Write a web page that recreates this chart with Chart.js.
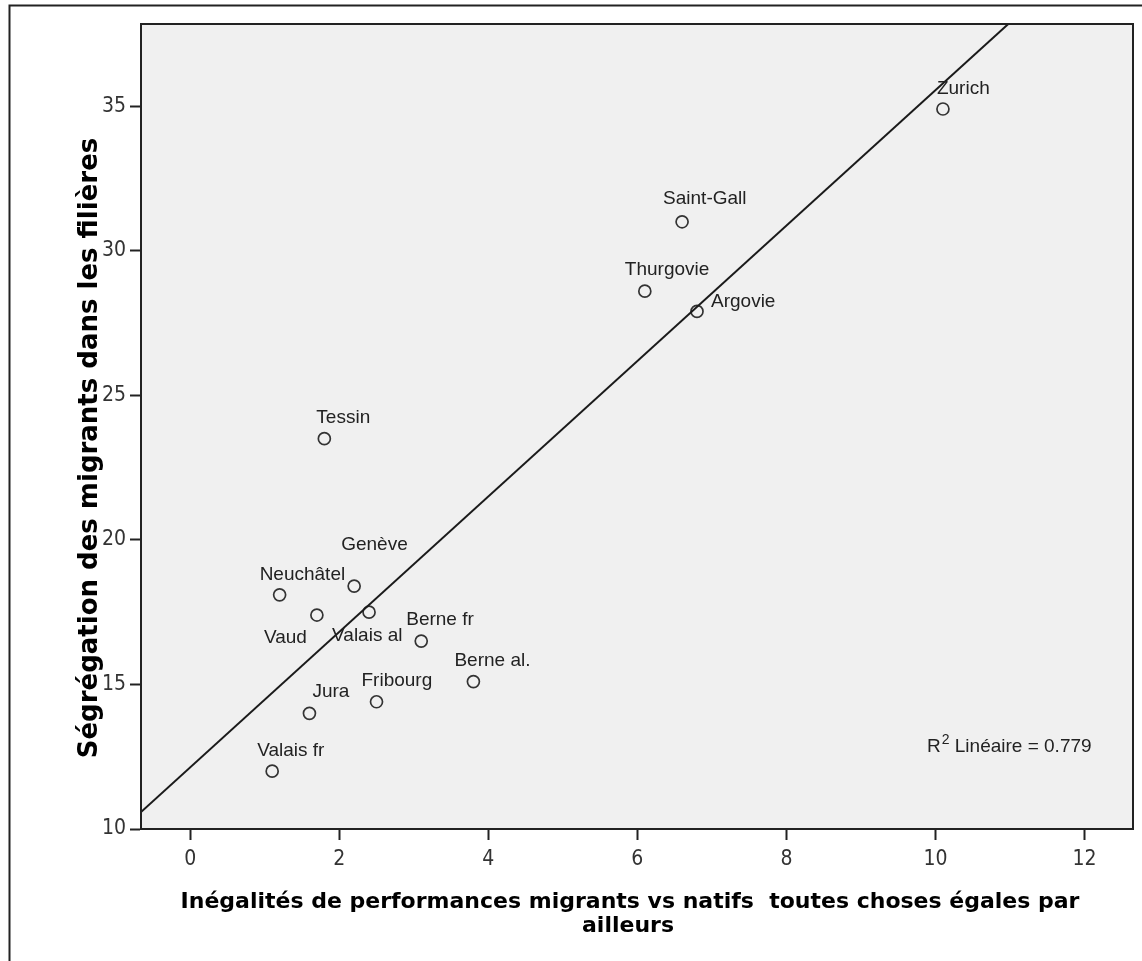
<!DOCTYPE html>
<html><head><meta charset="utf-8">
<script src="https://cdn.jsdelivr.net/npm/chart.js@4.4.1/dist/chart.umd.min.js"></script>
<style>html,body{margin:0;padding:0;background:#fff;}#wrap{width:1142px;height:961px;position:relative;}canvas{display:block;}</style>
</head><body><div id="wrap"><canvas id="c" width="1142" height="961" style="width:1142px;height:961px"></canvas></div>
<script>
// ---- data ----
const cantons = ['Zurich','Saint-Gall','Thurgovie','Argovie','Tessin','Genève','Neuchâtel','Vaud','Valais al','Berne fr','Berne al.','Fribourg','Jura','Valais fr'];
const inegalites = [10.1, 6.6, 6.1, 6.8, 1.8, 2.2, 1.2, 1.7, 2.4, 3.1, 3.8, 2.5, 1.6, 1.1];
const segregation = [34.9, 31.0, 28.6, 27.9, 23.5, 18.4, 18.1, 17.4, 17.5, 16.5, 15.1, 14.4, 14.0, 12.0];
const xTicks = [0, 2, 4, 6, 8, 10, 12];
const yTicks = [10, 15, 20, 25, 30, 35];
const xTitle = ['Inégalités de performances migrants vs natifs  toutes choses égales par', 'ailleurs'];
const yTitle = 'Ségrégation des migrants dans les filières';
const r2Text = ['R', '2', ' Linéaire = 0.779'];

// ---- axis ranges ----
const X_MIN = -0.66, X_MAX = 12.65, Y_MIN = 10, Y_MAX = 37.84;

// ---- least-squares fit line of the data (as in the reference) ----
const n = inegalites.length;
const mx = inegalites.reduce((a, b) => a + b, 0) / n;
const my = segregation.reduce((a, b) => a + b, 0) / n;
let sxy = 0, sxx = 0;
for (let i = 0; i < n; i++) { sxy += (inegalites[i] - mx) * (segregation[i] - my); sxx += (inegalites[i] - mx) ** 2; }
const slope = sxy / sxx, intercept = my - slope * mx;
const fitLine = [X_MIN, X_MAX].map(x => ({ x: x, y: intercept + slope * x }));

// ---- label placement (pixels, relative to each point) ----
const labelLayout = {
  'Zurich': [-6, -15], 'Saint-Gall': [-19, -18], 'Thurgovie': [-20, -16], 'Argovie': [14, -4],
  'Tessin': [-8, -16], 'Genève': [-13, -36], 'Neuchâtel': [-20, -15], 'Vaud': [-53, 28],
  'Valais al': [-37, 29], 'Berne fr': [-15, -16], 'Berne al.': [-19, -16], 'Fribourg': [-15, -16],
  'Jura': [3, -16], 'Valais fr': [-15, -15]
};

const decor = {
  id: 'decor',
  beforeDraw(chart) {
    const { ctx, chartArea: a } = chart;
    ctx.save();
    ctx.fillStyle = '#ffffff';
    ctx.fillRect(0, 0, chart.width, chart.height);
    ctx.strokeStyle = '#222';
    ctx.lineWidth = 2;
    ctx.beginPath();
    ctx.moveTo(9.5, chart.height + 5);
    ctx.lineTo(9.5, 5.5);
    ctx.lineTo(chart.width + 5, 5.5);
    ctx.stroke();
    ctx.fillStyle = '#f0f0f0';
    ctx.fillRect(a.left, a.top, a.right - a.left, a.bottom - a.top);
    ctx.restore();
  },
  afterDatasetsDraw(chart) {
    const { ctx, chartArea: a } = chart;
    const meta = chart.getDatasetMeta(1);
    ctx.save();
    ctx.font = '19px "Liberation Sans", Arial, sans-serif';
    ctx.fillStyle = '#222';
    ctx.textAlign = 'left';
    ctx.textBaseline = 'alphabetic';
    meta.data.forEach((pt, i) => {
      const off = labelLayout[cantons[i]] || [0, -15];
      ctx.fillText(cantons[i], pt.x + off[0], pt.y + off[1]);
    });
    // R² annotation
    let x = 927, y = 752;
    ctx.fillText(r2Text[0], x, y);
    x += ctx.measureText(r2Text[0]).width;
    ctx.font = '14px "Liberation Sans", Arial, sans-serif';
    ctx.fillText(r2Text[1], x + 1, y - 8);
    x += ctx.measureText(r2Text[1]).width + 1;
    ctx.font = '19px "Liberation Sans", Arial, sans-serif';
    ctx.fillText(r2Text[2], x, y);
    // plot frame
    ctx.strokeStyle = '#222';
    ctx.lineWidth = 2;
    ctx.strokeRect(a.left, a.top, a.right - a.left, a.bottom - a.top);
    // axis titles
    ctx.fillStyle = '#000';
    ctx.textAlign = 'center';
    ctx.textBaseline = 'middle';
    ctx.font = 'bold 22px "DejaVu Sans", Verdana, sans-serif';
    ctx.fillText(xTitle[0], 630, 902);
    ctx.fillText(xTitle[1], 628, 926);
    ctx.translate(90, 448);
    ctx.rotate(-Math.PI / 2);
    ctx.font = 'bold 26px "DejaVu Sans", Verdana, sans-serif';
    ctx.fillText(yTitle, 0, 0);
    ctx.restore();
  }
};

const tickFont = { family: '"Liberation Sans Narrow", "DejaVu Sans Condensed", "Liberation Sans", Arial', size: 21 };

new Chart(document.getElementById('c'), {
  type: 'scatter',
  data: {
    datasets: [
      {
        type: 'line', label: 'Linéaire', data: fitLine,
        borderColor: '#1a1a1a', borderWidth: 2, pointRadius: 0, fill: false, tension: 0
      },
      {
        label: 'Cantons',
        data: inegalites.map((v, i) => ({ x: v, y: segregation[i] })),
        pointRadius: 6, pointHoverRadius: 6, pointBorderWidth: 1.7,
        pointBorderColor: '#333', pointBackgroundColor: 'rgba(0,0,0,0)'
      }
    ]
  },
  options: {
    responsive: false,
    animation: false,
    devicePixelRatio: 1,
    layout: { padding: { top: 24, right: 9, left: 0, bottom: 0 } },
    plugins: { legend: { display: false }, tooltip: { enabled: false } },
    scales: {
      x: {
        type: 'linear', min: X_MIN, max: X_MAX,
        afterFit: s => { s.height = 132; },
        afterBuildTicks: s => { s.ticks = xTicks.map(v => ({ value: v })); },
        ticks: { includeBounds: false, color: '#333', font: tickFont, padding: 7, maxRotation: 0 },
        grid: { drawOnChartArea: false, drawTicks: true, tickLength: 11, tickColor: '#222', tickWidth: 2 },
        border: { display: true, color: '#222', width: 2 },
        title: { display: false, text: xTitle }
      },
      y: {
        type: 'linear', min: Y_MIN, max: Y_MAX,
        afterFit: s => { s.width = 141; },
        afterBuildTicks: s => { s.ticks = yTicks.map(v => ({ value: v })); },
        ticks: { includeBounds: false, color: '#333', font: tickFont, padding: 4 },
        grid: { drawOnChartArea: false, drawTicks: true, tickLength: 11, tickColor: '#222', tickWidth: 2 },
        border: { display: true, color: '#222', width: 2 },
        title: { display: false, text: yTitle }
      }
    }
  },
  plugins: [decor]
});
</script>
</body></html>
